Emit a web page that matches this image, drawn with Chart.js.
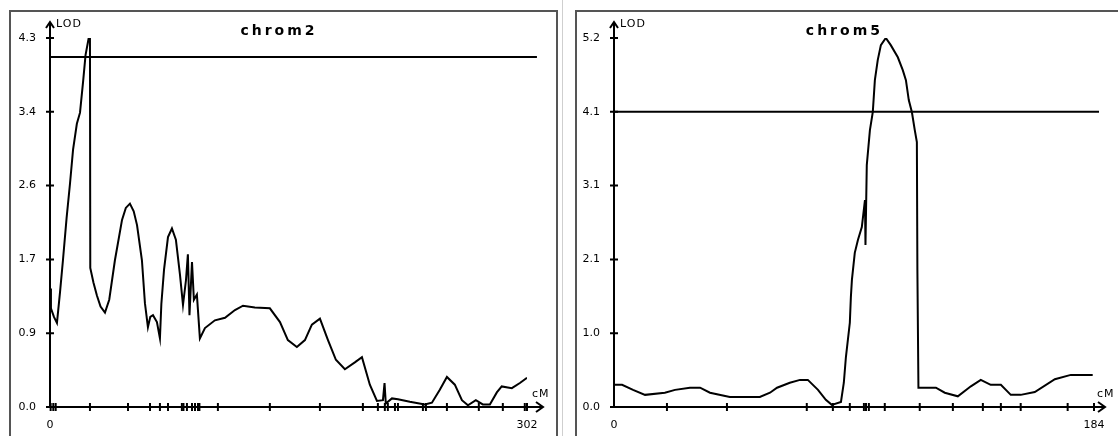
<!DOCTYPE html>
<html>
<head>
<meta charset="UTF-8">
<title>LOD profiles</title>
<script src="https://cdn.jsdelivr.net/npm/chart.js@4"></script>
<style>
  body { margin: 0; background: #fff; width: 1118px; height: 436px; overflow: hidden; position: relative; }
  .panel { position: absolute; top: 10px; height: 440px; border: 2px solid #555; box-sizing: border-box; }
  #p2 { left: 9px; width: 549px; }
  #p5 { left: 575px; width: 560px; }
  .sep { position: absolute; left: 562px; top: 0; width: 1px; height: 436px; background: #cfcfcf; }
  canvas { display: block; }
</style>
</head>
<body>
<div class="panel" id="p2"><canvas id="chrom2" width="545" height="424"></canvas></div>
<div class="sep"></div>
<div class="panel" id="p5"><canvas id="chrom5" width="541" height="424"></canvas></div>

<script>
// chrom2: LOD curve (cM, LOD), threshold, marker positions, y ticks
const chrom2Pos = [0, 0.6, 2.5, 4.4, 6.3, 8.2, 10.5, 12.7, 14.6, 17, 19, 21, 22.5, 24.5, 25.3, 25.5, 27.5, 29.7, 32, 34.8,
  37.5, 41.1, 45.6, 48, 50.6, 53, 55.1, 58.2, 60.1, 62, 63.5, 65.2, 67.7, 69.6, 70.5, 72.2, 74.7, 77.2, 79.7, 82.3,
  84.2, 86.1, 87.3, 88.3, 89.9, 91.1, 93, 94.9, 98.1, 104.4, 110.8, 117.1, 122.2, 129.7, 139.2, 145.6, 150.6, 156.3,
  161.4, 165.8, 170.9, 176, 181, 186.7, 193, 197.5, 202.5, 207, 210.8, 211.8, 212.6, 216.5, 220.3, 227.8, 237.3,
  241.8, 246.8, 251.3, 256.3, 260.8, 264.6, 269.6, 274, 278.5, 282.9, 286, 292.4, 297.5, 302];
const chrom2Lod = [1.38, 1.15, 1.05, 0.98, 1.33, 1.71, 2.2, 2.61, 3.0, 3.3, 3.43, 3.8, 4.1, 4.3, 4.3, 1.62, 1.45, 1.30, 1.17, 1.10,
  1.25, 1.71, 2.18, 2.32, 2.37, 2.28, 2.12, 1.71, 1.21, 0.93, 1.05, 1.07, 0.99, 0.80, 1.2, 1.6, 1.98, 2.08, 1.95, 1.54,
  1.19, 1.48, 1.78, 1.07, 1.69, 1.25, 1.31, 0.80, 0.92, 1.01, 1.04, 1.13, 1.18, 1.16, 1.15, 0.99, 0.78, 0.70,
  0.78, 0.96, 1.03, 0.78, 0.55, 0.44, 0.52, 0.58, 0.26, 0.07, 0.08, 0.28, 0.04, 0.10, 0.09, 0.06, 0.03,
  0.05, 0.20, 0.35, 0.26, 0.08, 0.02, 0.08, 0.03, 0.03, 0.17, 0.24, 0.22, 0.28, 0.34];
const chrom2Threshold = 4.08;
const chrom2Markers = [0.4, 2.1, 3.6, 25.3, 49.4, 63.3, 69.6, 74.7, 83.5, 84.5, 86.7, 89.9, 91.8, 93.7, 94.6, 106.3, 139.2,
  170.9, 198.1, 207.6, 212, 213.9, 218.4, 220.3, 236.1, 238, 251.3, 271.5, 286.7, 300.6, 302];
const chrom2Length = 302;
const chrom2YTicks = [0, 0.86, 1.72, 2.58, 3.44, 4.3];
const chrom2YLabels = ['0.0', '0.9', '1.7', '2.6', '3.4', '4.3'];

// chrom5
const chrom5Pos = [0, 3.1, 7.3, 11.9, 19.5, 23.4, 29.1, 33, 36.8, 44.4, 55.9, 59.8, 62.5, 67.4, 71.3, 74.3, 78.2, 81.2, 83.5,
  87, 88.1, 88.9, 90.4, 90.8, 91.2, 92.3, 93.5, 95, 96.2, 96.4, 96.9, 98.1, 99.2, 100, 101.1, 102.3, 104.2, 106.1, 108.8,
  110.7, 111.9, 113, 114.2, 115.3, 116.1, 116.3, 116.7, 123.4, 126.8, 131.8, 136.8, 140.6, 144.4, 148.3, 152.1, 155.9,
  161.3, 169, 175.1, 183.5];
const chrom5Lod = [0.31, 0.31, 0.24, 0.17, 0.20, 0.24, 0.27, 0.27, 0.20, 0.14, 0.14, 0.20, 0.27, 0.34, 0.38, 0.38, 0.24, 0.10, 0.03,
  0.07, 0.34, 0.70, 1.18, 1.54, 1.78, 2.16, 2.34, 2.52, 2.90, 2.27, 3.39, 3.88, 4.13, 4.58, 4.86, 5.07, 5.17, 5.07, 4.90,
  4.72, 4.58, 4.30, 4.13, 3.88, 3.71, 1.92, 0.27, 0.27, 0.20, 0.15, 0.29, 0.38, 0.31, 0.31, 0.17, 0.17,
  0.21, 0.39, 0.45, 0.45];
const chrom5Threshold = 4.136;
const chrom5Markers = [20.3, 43.3, 73.9, 83.9, 90.4, 95.8, 96.6, 97.7, 103.8, 117.2, 129.9, 141.4, 148.3, 155.9, 173.9, 184];
const chrom5Length = 184;
const chrom5YTicks = [0, 1.034, 2.068, 3.102, 4.136, 5.17];
const chrom5YLabels = ['0.0', '1.0', '2.1', '3.1', '4.1', '5.2'];

const FONT = '"DejaVu Sans", sans-serif';

// axes with arrows, title, LOD / cM captions
const axisDecor = {
  id: 'axisDecor',
  afterDatasetsDraw(chart, args, opts) {
    const ctx = chart.ctx;
    const a = chart.chartArea;
    const ys = chart.scales.y;
    const tip = a.right + opts.arrow;
    ctx.save();
    ctx.strokeStyle = '#000';
    ctx.lineWidth = 2;
    ctx.beginPath();
    ctx.moveTo(a.left, a.bottom);
    ctx.lineTo(a.left, a.top - 16);
    ctx.moveTo(a.left - 4, a.top - 10);
    ctx.lineTo(a.left, a.top - 16);
    ctx.lineTo(a.left + 4, a.top - 10);
    ctx.moveTo(a.left, a.bottom);
    ctx.lineTo(tip, a.bottom);
    ctx.moveTo(tip - 7, a.bottom - 5);
    ctx.lineTo(tip, a.bottom);
    ctx.lineTo(tip - 7, a.bottom + 5);
    ys.ticks.forEach(t => {
      const py = ys.getPixelForValue(t.value);
      ctx.moveTo(a.left - 4, py);
      ctx.lineTo(a.left + 4, py);
    });
    ctx.stroke();

    ctx.fillStyle = '#000';
    ctx.textBaseline = 'alphabetic';
    ctx.font = '11px ' + FONT;
    ctx.letterSpacing = '1px';
    ctx.textAlign = 'left';
    ctx.fillText('LOD', a.left + 6, a.top - 11);
    ctx.fillText('cM', a.right + opts.cmGap, a.bottom - 10);

    ctx.font = 'bold 14px ' + FONT;
    ctx.letterSpacing = '3px';
    ctx.textAlign = 'center';
    ctx.fillText(opts.title, a.left + (a.right - a.left) * 0.48, a.top - 3);
    ctx.restore();
  }
};

function makeChart(id, pos, lod, thr, markers, len, yTicks, yLabels, yWidth, padRight, arrow, cmGap, title) {
  const curve = pos.map((x, i) => ({ x: x, y: lod[i] }));
  const marks = markers.map(x => ({ x: x, y: 0 }));
  const extra = (arrow - 6) / 480 * len;
  new Chart(document.getElementById(id), {
    type: 'scatter',
    data: {
      datasets: [
        { data: curve, showLine: true, borderColor: '#000', borderWidth: 2, pointRadius: 0, tension: 0 },
        { data: [{ x: 0, y: thr }, { x: len + extra, y: thr }], showLine: true, borderColor: '#000',
          borderWidth: 2, pointRadius: 0, clip: false },
        { data: marks, showLine: false, pointStyle: 'line', rotation: 90, pointRadius: 4,
          borderColor: '#000', borderWidth: 2, clip: false }
      ]
    },
    options: {
      responsive: false,
      animation: false,
      devicePixelRatio: 1,
      layout: { padding: { left: 0, right: padRight, top: 26, bottom: 0 } },
      plugins: {
        legend: { display: false },
        tooltip: { enabled: false },
        axisDecor: { title: title, arrow: arrow, cmGap: cmGap }
      },
      scales: {
        x: {
          type: 'linear', min: 0, max: len,
          grid: { display: false, drawTicks: false },
          border: { display: false },
          afterBuildTicks: s => { s.ticks = [{ value: 0 }, { value: len }]; },
          afterFit: s => { s.height = 29; },
          ticks: { autoSkip: false, maxRotation: 0, padding: 12, color: '#000', font: { family: FONT, size: 11 },
            callback: v => String(v) }
        },
        y: {
          min: 0, max: yTicks[yTicks.length - 1],
          grid: { display: false, drawTicks: false },
          border: { display: false },
          afterBuildTicks: s => { s.ticks = yTicks.map(v => ({ value: v })); },
          afterFit: s => { s.width = yWidth; },
          ticks: { autoSkip: false, padding: 14, color: '#000', font: { family: FONT, size: 11 },
            callback: (v, i) => yLabels[i] }
        }
      }
    },
    plugins: [axisDecor]
  });
}

makeChart('chrom2', chrom2Pos, chrom2Lod, chrom2Threshold, chrom2Markers, chrom2Length,
  chrom2YTicks, chrom2YLabels, 39, 29, 16, 5, 'chrom2');
makeChart('chrom5', chrom5Pos, chrom5Lod, chrom5Threshold, chrom5Markers, chrom5Length,
  chrom5YTicks, chrom5YLabels, 37, 24, 11, 3, 'chrom5');
</script>
</body>
</html>
